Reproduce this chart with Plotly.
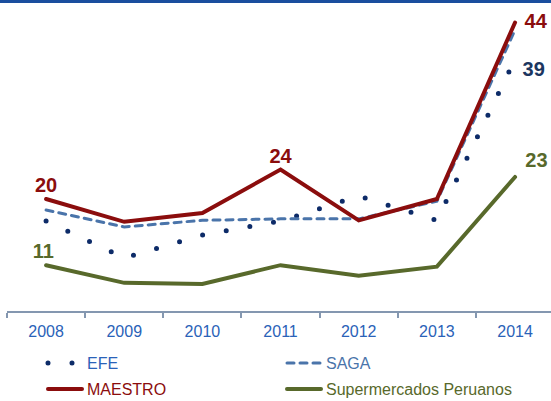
import plotly.graph_objects as go

years = ['2008', '2009', '2010', '2011', '2012', '2013', '2014']
efe = [17, 12, 15.1, 17, 20.4, 17.1, 39]
saga = [18.5, 16.2, 17.1, 17.3, 17.3, 19.7, 43]
maestro = [20, 16.9, 18.1, 24, 17.1, 20, 44]
supermercados = [11, 8.6, 8.45, 11, 9.55, 10.8, 23]

W, H = 551, 401
ML, MR, MT, MB = 7, 0, 10, 90
PW, PH = W - ML - MR, H - MT - MB


def px2x(p):
    return (p - ML) / PW


def py2y(p):
    return (H - MB - p) / PH


C_EFE = '#0D2B68'
C_SAGA = '#4A74AA'
C_MAE = '#8B0D0D'
C_SUP = '#58692B'
C_TICK = '#2A62B8'
C_LBL39 = '#1C3660'
FONT = 'Arial, Liberation Sans, sans-serif'
NB = '\u00a0'

fig = go.Figure()
fig.add_trace(go.Scatter(x=years, y=efe, mode='lines', name=f'<span style="color:{C_TICK}">EFE</span>',
                         line=dict(color=C_EFE, width=5, dash='0px,24px'), legend='legend'))
fig.add_trace(go.Scatter(x=years, y=saga, mode='lines', name=f'<span style="color:{C_SAGA}">SAGA</span>',
                         line=dict(color=C_SAGA, width=3, dash='7px,6px'), legend='legend'))
fig.add_trace(go.Scatter(x=years, y=supermercados, mode='lines',
                         name=f'<span style="color:{C_SUP}">Supermercados Peruanos</span>',
                         line=dict(color=C_SUP, width=4), legend='legend2', legendrank=2))
fig.add_trace(go.Scatter(x=years, y=maestro, mode='lines', name=f'<span style="color:{C_MAE}">MAESTRO</span>',
                         line=dict(color=C_MAE, width=4), legend='legend2', legendrank=1))

# value labels drawn as text points:
# (series, index, colour, text position, marker size, template)
labels = [
    (maestro, 0, C_MAE, 'top center', 1.6, '<b>{}</b>'),
    (maestro, 3, C_MAE, 'top center', 1.6, '<b>{}</b>'),
    (maestro, 6, C_MAE, 'middle right', 4.8, NB + '<b>{}</b>'),
    (supermercados, 0, C_SUP, 'top center', 1.6, '<b>{}</b>' + NB),
    (supermercados, 6, C_SUP, 'top right', 0, NB + '<b>{}</b>'),
    (efe, 6, C_LBL39, 'bottom right', 1.6, NB + '<b>{}</b>'),
]
for series, i, col, pos, msize, tpl in labels:
    fig.add_trace(go.Scatter(
        x=[years[i]], y=[series[i]], mode='markers+text',
        text=[tpl.format(f'{series[i]:g}')], textposition=pos,
        textfont=dict(family=FONT, size=20, color=col),
        marker=dict(size=msize, opacity=0, color=col),
        showlegend=False, hoverinfo='skip', cliponaxis=False))

fig.add_shape(type='rect', xref='paper', yref='paper', x0=-0.05, x1=1.05,
              y0=py2y(3), y1=py2y(-1), fillcolor='#1A4E9E', line=dict(width=0), layer='above')

leg_common = dict(orientation='h', xanchor='left', yanchor='top', entrywidth=190, itemwidth=34,
                  font=dict(family=FONT, size=16), bgcolor='rgba(0,0,0,0)')
fig.update_layout(
    width=W, height=H, margin=dict(l=ML, r=MR, t=MT, b=MB, autoexpand=False),
    paper_bgcolor='white', plot_bgcolor='white',
    font=dict(family=FONT, size=16),
    xaxis=dict(type='category', categoryorder='array', categoryarray=years, range=[-0.5, 6.46],
               showline=True, linecolor='#8497B0', linewidth=2, ticks='outside', tickson='boundaries',
               ticklen=5, tickwidth=1.5, tickcolor='#8497B0', showgrid=False, zeroline=False,
               automargin=False, ticklabelstandoff=5,
               tickfont=dict(family=FONT, size=16, color=C_TICK)),
    yaxis=dict(range=[4.77, 45.7], showticklabels=False, ticks='', showline=False,
               showgrid=False, zeroline=False, automargin=False),
    legend=dict(x=px2x(43), y=py2y(346), **leg_common),
    legend2=dict(x=px2x(43), y=py2y(372), **leg_common),
    showlegend=True,
)

post = """
var s=document.createElement('style');
s.textContent='html,body{margin:0;padding:0;} path.js-line{stroke-linecap:round;}';
document.head.appendChild(s);
"""
fig.write_html('out.html', post_script=post, config={'displayModeBar': False})
